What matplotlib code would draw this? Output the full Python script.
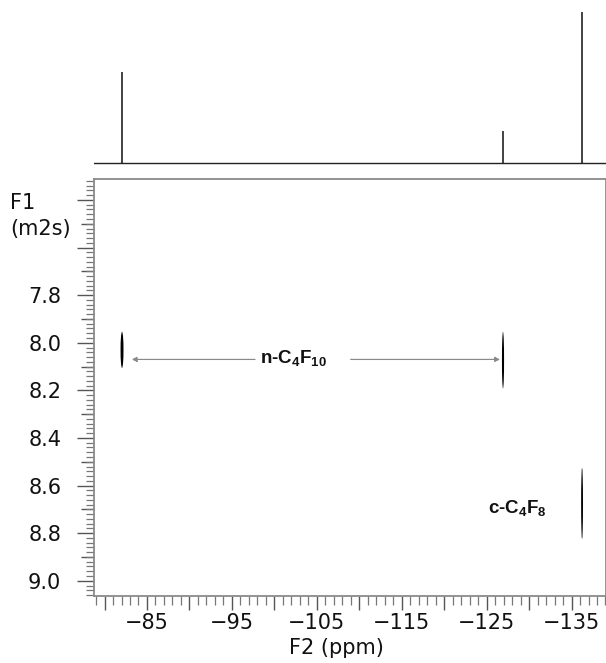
import matplotlib
matplotlib.use("Agg")
import matplotlib.pyplot as plt
from matplotlib.ticker import MultipleLocator, FixedLocator, FuncFormatter
from matplotlib.patches import Ellipse
import numpy as np

plt.rcParams['font.family'] = ['DejaVu Sans']
plt.rcParams['mathtext.fontset'] = 'custom'
plt.rcParams['mathtext.bf'] = 'Liberation Sans:bold'
plt.rcParams['mathtext.rm'] = 'Liberation Sans:bold'

# ---- data ----
peak_ppm = [-82.06, -126.93, -136.24]          # 1D projection peaks (F2, ppm)
peak_height = [91.0, 31.5, 150.5]              # relative intensities
cross_f2 = [-82.06, -126.93, -136.24]          # 2D DOSY peaks F2 (ppm)
cross_f1 = [8.03, 8.073, 8.675]                # 2D peak centres F1 (m2s)
cross_f1_span = [0.152, 0.238, 0.30]           # vertical extent of each 2D peak
cross_f2_width = [0.35, 0.25, 0.22]            # horizontal width (ppm)
x_labels = [-85, -95, -105, -115, -125, -135]
y_labels = [7.8, 8.0, 8.2, 8.4, 8.6, 8.8, 9.0]
compound_names = [r'n-C$\mathbf{_4}$F$\mathbf{_{10}}$', r'c-C$\mathbf{_4}$F$\mathbf{_8}$']
compound_pos = [(-102.3, 8.064), (-128.6, 8.695)]

XLIM = (-78.76, -139.06)
YLIM = (9.064, 7.312)

W, H = 606, 663
fig = plt.figure(figsize=(W / 100, H / 100), dpi=100)

# ---- main 2D axes ----
ax = fig.add_axes([94 / W, (H - 596) / H, (606 - 94) / W, (596 - 179) / H])
ax.set_xlim(*XLIM)
ax.set_ylim(*YLIM)

for s in ax.spines.values():
    s.set_color('#8a8a8a')
    s.set_linewidth(1.3)

# x ticks
ax.xaxis.set_major_locator(MultipleLocator(5))
ax.xaxis.set_minor_locator(MultipleLocator(1))
ax.xaxis.set_major_formatter(FuncFormatter(
    lambda v, p: ('\u2212%d' % abs(round(v))) if round(v) in x_labels else ''))
ax.tick_params(axis='x', which='major', direction='out', length=10, width=1.0,
               color='#555555', pad=2.5, labelsize=15, labelcolor='#111111')
ax.tick_params(axis='x', which='minor', direction='out', length=6.5, width=0.9,
               color='#777777')

# y ticks
ax.yaxis.set_major_locator(MultipleLocator(0.2))
ax.yaxis.set_minor_locator(MultipleLocator(0.02))
ax.yaxis.set_major_formatter(FuncFormatter(
    lambda v, p: ('%.1f' % v) if any(abs(v - yl) < 1e-6 for yl in y_labels) else ''))
ax.tick_params(axis='y', which='major', direction='out', length=12.5, width=1.0,
               color='#555555', pad=11, labelsize=15, labelcolor='#111111')
ax.tick_params(axis='y', which='minor', direction='out', length=6, width=0.9,
               color='#777777')

# medium ticks at odd tenths
sec = ax.secondary_yaxis('left')
sec.yaxis.set_major_locator(FixedLocator([round(7.3 + 0.2 * i, 1) for i in range(9)]))
sec.yaxis.set_major_formatter(FuncFormatter(lambda v, p: ''))
sec.tick_params(axis='y', direction='out', length=9.5, width=1.0, color='#555555')
sec.spines['left'].set_visible(False)

# 2D peaks
for x, y, span, w in zip(cross_f2, cross_f1, cross_f1_span, cross_f2_width):
    ax.add_patch(Ellipse((x, y), width=w, height=span, color='black', lw=0))

# labels
ax.text(*compound_pos[0], compound_names[0], ha='center', va='center',
        fontsize=13.5, fontweight='bold', family='Liberation Sans', color='#111111')
ax.text(*compound_pos[1], compound_names[1], ha='center', va='center',
        fontsize=13.5, fontweight='bold', family='Liberation Sans', color='#111111')

# dotted arrows
arrow_kw = dict(arrowstyle='-|>', color='#8a8a8a', lw=0.9, linestyle=(0, (1, 0.6)),
                mutation_scale=7, shrinkA=0, shrinkB=0)
ax.annotate('', xy=(-83.2, 8.07), xytext=(-97.72, 8.07), arrowprops=arrow_kw)
ax.annotate('', xy=(-126.58, 8.07), xytext=(-108.99, 8.07), arrowprops=arrow_kw)

# axis labels
fig.text(10 / W, 1 - 203 / H, 'F1', fontsize=15, ha='left', va='center', color='#111111')
fig.text(10 / W, 1 - 229 / H, '(m2s)', fontsize=15, ha='left', va='center', color='#111111')
fig.text(336 / W, 1 - 648 / H, 'F2 (ppm)', fontsize=15, ha='center', va='center', color='#111111')

# ---- top 1D projection ----
axt = fig.add_axes([94 / W, (H - 170) / H, (606 - 94) / W, 170 / H])
axt.set_xlim(*XLIM)
axt.set_ylim(-7.5, 162.5)
axt.axis('off')
axt.axhline(0, color='#222222', lw=1.0)
axt.vlines(peak_ppm, 0, peak_height, color='#222222', lw=1.2)

fig.savefig('out.png', dpi=100)
